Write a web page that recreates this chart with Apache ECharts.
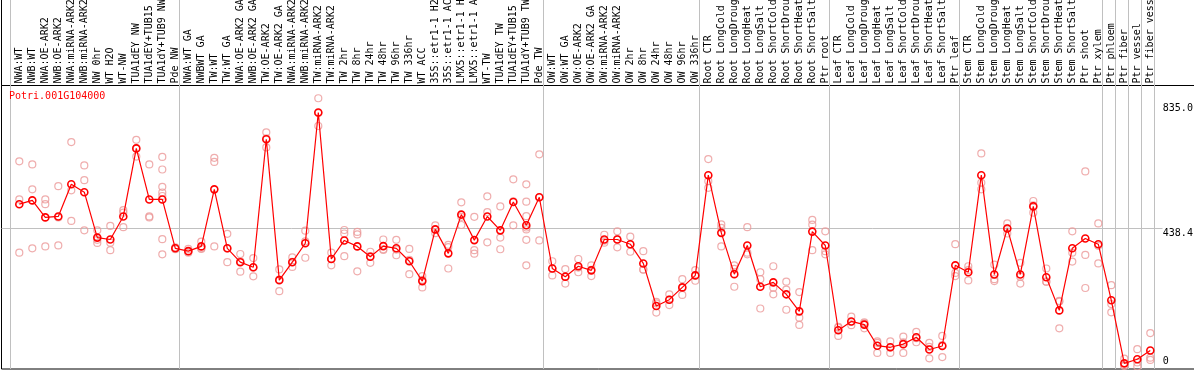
<!DOCTYPE html>
<html><head><meta charset="utf-8">
<script src="https://cdn.jsdelivr.net/npm/echarts@6/dist/echarts.min.js"></script>
<style>html,body{margin:0;padding:0;background:#fff}#c{width:1194px;height:370px}</style>
</head><body><div id="c"></div>
<script>
const geneId = 'Potri.001G104000';
const categories = [
 'NWA:WT','NWB:WT','NWA:OE-ARK2','NWB:OE-ARK2','NWA:miRNA-ARK2','NWB:miRNA-ARK2','NW 0hr','WT H2O','WT-NW','TUA1dEY NW',
 'TUA1dEY+TUB15 NW','TUA1dY+TUB9 NW','Pde NW','NWA:WT GA','NWBWT GA','TW:WT','TW:WT GA','NWA:OE-ARK2 GA','NWB:OE-ARK2 GA','TW:OE-ARK2',
 'TW:OE-ARK2 GA','NWA:miRNA-ARK2 GA','NWB:miRNA-ARK2 GA','TW:miRNA-ARK2','TW:miRNA-ARK2 GA','TW 2hr','TW 8hr','TW 24hr','TW 48hr','TW 96hr',
 'TW 336hr','WT ACC','35S::etr1-1 H2O','35S::etr1-1 ACC','LMX5::etr1-1 H2O','LMX5::etr1-1 ACC','WT-TW','TUA1dEY TW','TUA1dEY+TUB15 TW','TUA1dY+TUB9 TW',
 'Pde TW','OW:WT','OW:WT GA','OW:OE-ARK2','OW:OE-ARK2 GA','OW:miRNA-ARK2','OW:miRNA-ARK2 GA','OW 2hr','OW 8hr','OW 24hr',
 'OW 48hr','OW 96hr','OW 336hr','Root CTR','Root LongCold','Root LongDrought','Root LongHeat','Root LongSalt','Root ShortCold','Root ShortDrought',
 'Root ShortHeat','Root ShortSalt','Ptr root','Leaf CTR','Leaf LongCold','Leaf LongDrought','Leaf LongHeat','Leaf LongSalt','Leaf ShortCold','Leaf ShortDrought',
 'Leaf ShortHeat','Leaf ShortSalt','Ptr leaf','Stem CTR','Stem LongCold','Stem LongDrought','Stem LongHeat','Stem LongSalt','Stem ShortCold','Stem ShortDrought',
 'Stem ShortHeat','Stem ShortSalt','Ptr shoot','Ptr xylem','Ptr phloem','Ptr fiber','Ptr vessel','Ptr fiber vessel'
];
const groupSizes = [13, 28, 12, 10, 10, 11, 1, 1, 1, 1];
const means = [
 515, 527, 473, 476, 578, 553, 409, 403, 476, 692,
 530, 530, 375, 366, 381, 562, 375, 331, 315, 721,
 274, 331, 391, 806, 341, 400, 381, 348, 382, 375,
 334, 271, 435, 359, 482, 401, 476, 432, 522, 448,
 537, 311, 285, 318, 305, 403, 403, 388, 327, 192,
 212, 251, 289, 607, 424, 293, 384, 253, 267, 229,
 175, 428, 384, 115, 143, 133, 66, 61, 71, 93,
 54, 65, 321, 299, 607, 292, 438, 292, 508, 283,
 178, 375, 406, 388, 210, 10, 23, 51
];
const replicates = [
 [651,530,361],[641,562,375],[530,515,381],[572,384,473],[712,559,462],[638,591,432],[432,402,392],[446,393,369],[496,488,442],[719,666,692],
 [641,476,473],[665,625,570,552,541,404,356],[372,378,376],[373,361,365],[396,373,375],[662,649,381],[421,331,374],[357,301,334],[344,286,314],[743,695,724],
 [308,239,276],[346,316,332],[431,345,397],[851,763,804],[361,321,341],[433,422,350],[427,419,302],[364,329,350],[403,370,372],[402,353,371],
 [373,293,338],[287,251,275],[448,423,434],[386,311,379],[521,449,475],[475,369,358],[540,490,394],[508,409,372],[594,448,524],[578,523,477,441,435,402,321],
 [673,400,537],[334,289,311],[309,263,284],[341,299,314],[321,287,307],[418,393,399],[429,378,404],[412,364,387],[366,308,307],[205,171,200],
 [229,195,212],[277,227,249],[306,272,289],[658,588,567],[451,440,381],[321,310,253],[442,361,356],[299,277,184],[318,250,229],[269,244,180],
 [236,155,132],[465,450,369],[429,366,356],[126,97,123],[158,131,142],[140,121,137],[80,43,75],[80,43,60],[95,43,77],[110,77,90],
 [75,26,62],[97,30,68],[388,297,287],[318,306,273],[676,583,562],[323,277,271],[454,422,438],[329,263,285],[525,488,511],[311,269,269],
 [208,121,206],[429,361,333],[619,354,249],[454,327,383],[258,198,172],[25,2,3],[55,13,0],[106,28,21]
];
const yTopTicks = [835.0, 438.4];
const yZeroTick = [0];
const yRefLine = [438.4];
const yMin = -7.9, yMax = 891.5;

const FONT = 'DejaVu Sans Mono';
const boundaries = new Set([0]);
let acc = 0; groupSizes.forEach(s => { acc += s; boundaries.add(acc); });
const boundaryCats = Array.from({length: categories.length + 1}, (_, i) => String(i));
const scatterData = [];
replicates.forEach((arr, i) => arr.forEach(v => scatterData.push([i, v])));

const hiddenParts = { axisLine: {show: false}, axisTick: {show: false}, axisLabel: {show: false}, splitLine: {show: false} };
const noBounds = { outerBoundsMode: 'none', containLabel: false };
const chart = echarts.init(document.getElementById('c'), null, {renderer: 'canvas'});
chart.setOption({
  animation: false,
  backgroundColor: '#fff',
  title: { text: geneId, left: 9, top: 91, padding: 0,
    textStyle: { color: '#ff0000', fontFamily: FONT, fontSize: 10, fontWeight: 'normal' } },
  grid: [
    Object.assign({ left: 12.8, width: 1144, top: 85.5, height: 283.5 }, noBounds),
    Object.assign({ left: 10.7, width: 1144, top: 0, height: 369 }, noBounds),
    Object.assign({ left: 1.5, top: 85.5, width: 1300, height: 283.5, show: true, borderColor: '#000', borderWidth: 1, backgroundColor: 'transparent' }, noBounds),
    Object.assign({ left: 1.5, top: -10, width: 1300, height: 95.5, show: true, borderColor: '#000', borderWidth: 1, backgroundColor: 'transparent' }, noBounds),
    Object.assign({ left: 1.5, top: 85.5, width: 1161, height: 283.5 }, noBounds)
  ],
  xAxis: [
    { gridIndex: 0, type: 'category', data: categories, position: 'top', boundaryGap: true,
      axisLine: {show: false}, axisTick: {show: false}, splitLine: {show: false},
      axisLabel: { interval: 0, rotate: 90, margin: 2, fontFamily: FONT, fontSize: 10, color: '#000' } },
    Object.assign({ gridIndex: 1, type: 'category', data: boundaryCats, boundaryGap: false }, hiddenParts,
      { splitLine: { show: true, interval: (idx) => boundaries.has(idx), lineStyle: { color: '#c0c0c0', width: 1 } } }),
    { gridIndex: 2, type: 'value', show: false },
    { gridIndex: 3, type: 'value', show: false },
    { gridIndex: 4, type: 'value', show: false, min: 0, max: 1 }
  ],
  yAxis: [
    { gridIndex: 0, type: 'value', min: yMin, max: yMax, position: 'right',
      axisLine: {show: false}, axisTick: {show: false, customValues: yTopTicks}, splitLine: {show: false},
      axisLabel: { customValues: yTopTicks, formatter: v => Number(v).toFixed(1), margin: 6, verticalAlign: 'top',
        fontFamily: FONT, fontSize: 10, color: '#000' } },
    { gridIndex: 0, type: 'value', min: yMin, max: yMax, position: 'right',
      axisLine: {show: false}, axisTick: {show: false, customValues: yZeroTick}, splitLine: {show: false},
      axisLabel: { customValues: yZeroTick, formatter: v => String(v), margin: 6, verticalAlign: 'bottom',
        fontFamily: FONT, fontSize: 10, color: '#000' } },
    { gridIndex: 1, type: 'value', show: false },
    { gridIndex: 2, type: 'value', show: false },
    { gridIndex: 3, type: 'value', show: false },
    Object.assign({ gridIndex: 4, type: 'value', min: yMin, max: yMax }, hiddenParts,
      { axisTick: {show: false, customValues: yRefLine},
        splitLine: { show: true, lineStyle: { color: '#c0c0c0', width: 1 } } })
  ],
  series: [
    { type: 'scatter', xAxisIndex: 0, yAxisIndex: 0, data: scatterData, symbol: 'circle', symbolSize: 7,
      itemStyle: { color: 'rgba(0,0,0,0)', borderColor: '#eb9898', borderWidth: 1.2 }, z: 2, silent: true },
    { type: 'line', xAxisIndex: 0, yAxisIndex: 0, data: means, symbol: 'circle', symbolSize: 7, showAllSymbol: true,
      lineStyle: { color: '#ff0000', width: 1.2 },
      itemStyle: { color: 'rgba(0,0,0,0)', borderColor: '#ff0000', borderWidth: 1.6 }, z: 3, silent: true }
  ]
});
</script></body></html>
